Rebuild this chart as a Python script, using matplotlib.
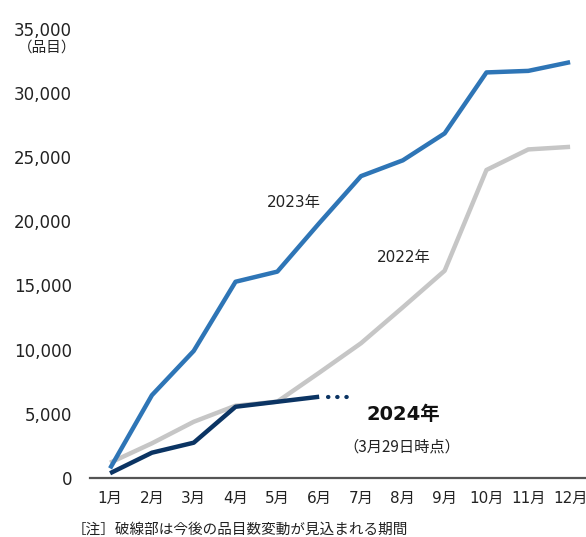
import matplotlib
matplotlib.use("Agg")
import matplotlib.pyplot as plt
from matplotlib.ticker import FuncFormatter

plt.rcParams['font.family'] = ['DejaVu Sans', 'Noto Sans CJK JP']
cjk_first = ['Noto Sans CJK JP', 'DejaVu Sans']

months = list(range(1, 13))
month_labels = [f"{m}月" for m in months]

# cumulative number of items
y2022 = [1190, 2700, 4380, 5630, 5950, 8200, 10500, 13300, 16150, 24000, 25600, 25800]
y2023 = [750, 6450, 9900, 15290, 16080, 19850, 23520, 24750, 26850, 31600, 31720, 32400]
y2024 = [370, 1970, 2750, 5550, 5940, 6330]
# dotted part: figure may still change after 3/29
x2024_pending = [6.21, 6.86]
y2024_pending = [6330, 6330]

fig = plt.figure(figsize=(5.86, 5.37), dpi=100)
ax = fig.add_axes([0.1536, 0.1099, 0.8464, 0.8365])

ax.plot(months, y2022, color="#c6c6c6", lw=3.2, solid_capstyle="butt", zorder=2)
ax.plot(months, y2023, color="#2e75b6", lw=3.2, solid_capstyle="butt", zorder=3)
ax.plot(months[:6], y2024, color="#0b3463", lw=3.2, solid_capstyle="butt", zorder=4)
ax.plot(x2024_pending, y2024_pending, color="#0b3463", lw=3.0,
        linestyle=(0, (0.1, 2.1)), dash_capstyle="round", zorder=4)

ax.set_xlim(0.52, 12.38)
ax.set_ylim(0, 35000)
ax.set_xticks(months)
ax.set_xticklabels(month_labels)
ax.set_yticks(range(0, 35001, 5000))
ax.yaxis.set_major_formatter(FuncFormatter(lambda v, p: f"{int(v):,}"))
ax.tick_params(axis="both", length=0, colors="#222222")
ax.tick_params(axis="y", pad=13, labelsize=12)
ax.tick_params(axis="x", pad=9, labelsize=11)

for s in ["top", "right", "left"]:
    ax.spines[s].set_visible(False)
ax.spines["bottom"].set_color("#555555")
ax.spines["bottom"].set_linewidth(1.6)

ax.text(5.40, 21460, "2023年", fontsize=11, ha="center", va="center", color="#222222")
ax.text(8.03, 17150, "2022年", fontsize=11, ha="center", va="center", color="#222222")
ax.text(8.02, 4910, "2024年", fontsize=14, fontweight="bold", ha="center", va="center", color="#111111")
ax.text(7.98, 2440, "（3月29日時点）", fontsize=11, ha="center", va="center",
        color="#222222", family=cjk_first)

fig.text(47 / 586, 1 - 48 / 537, "（品目）", fontsize=10.5, ha="center", va="center",
         color="#222222", family=cjk_first)
fig.text(72 / 586, 0.001, "［注］破線部は今後の品目数変動が見込まれる期間", fontsize=10.5,
         ha="left", va="bottom", color="#222222", family=cjk_first)

fig.savefig("out.png", dpi=100)
